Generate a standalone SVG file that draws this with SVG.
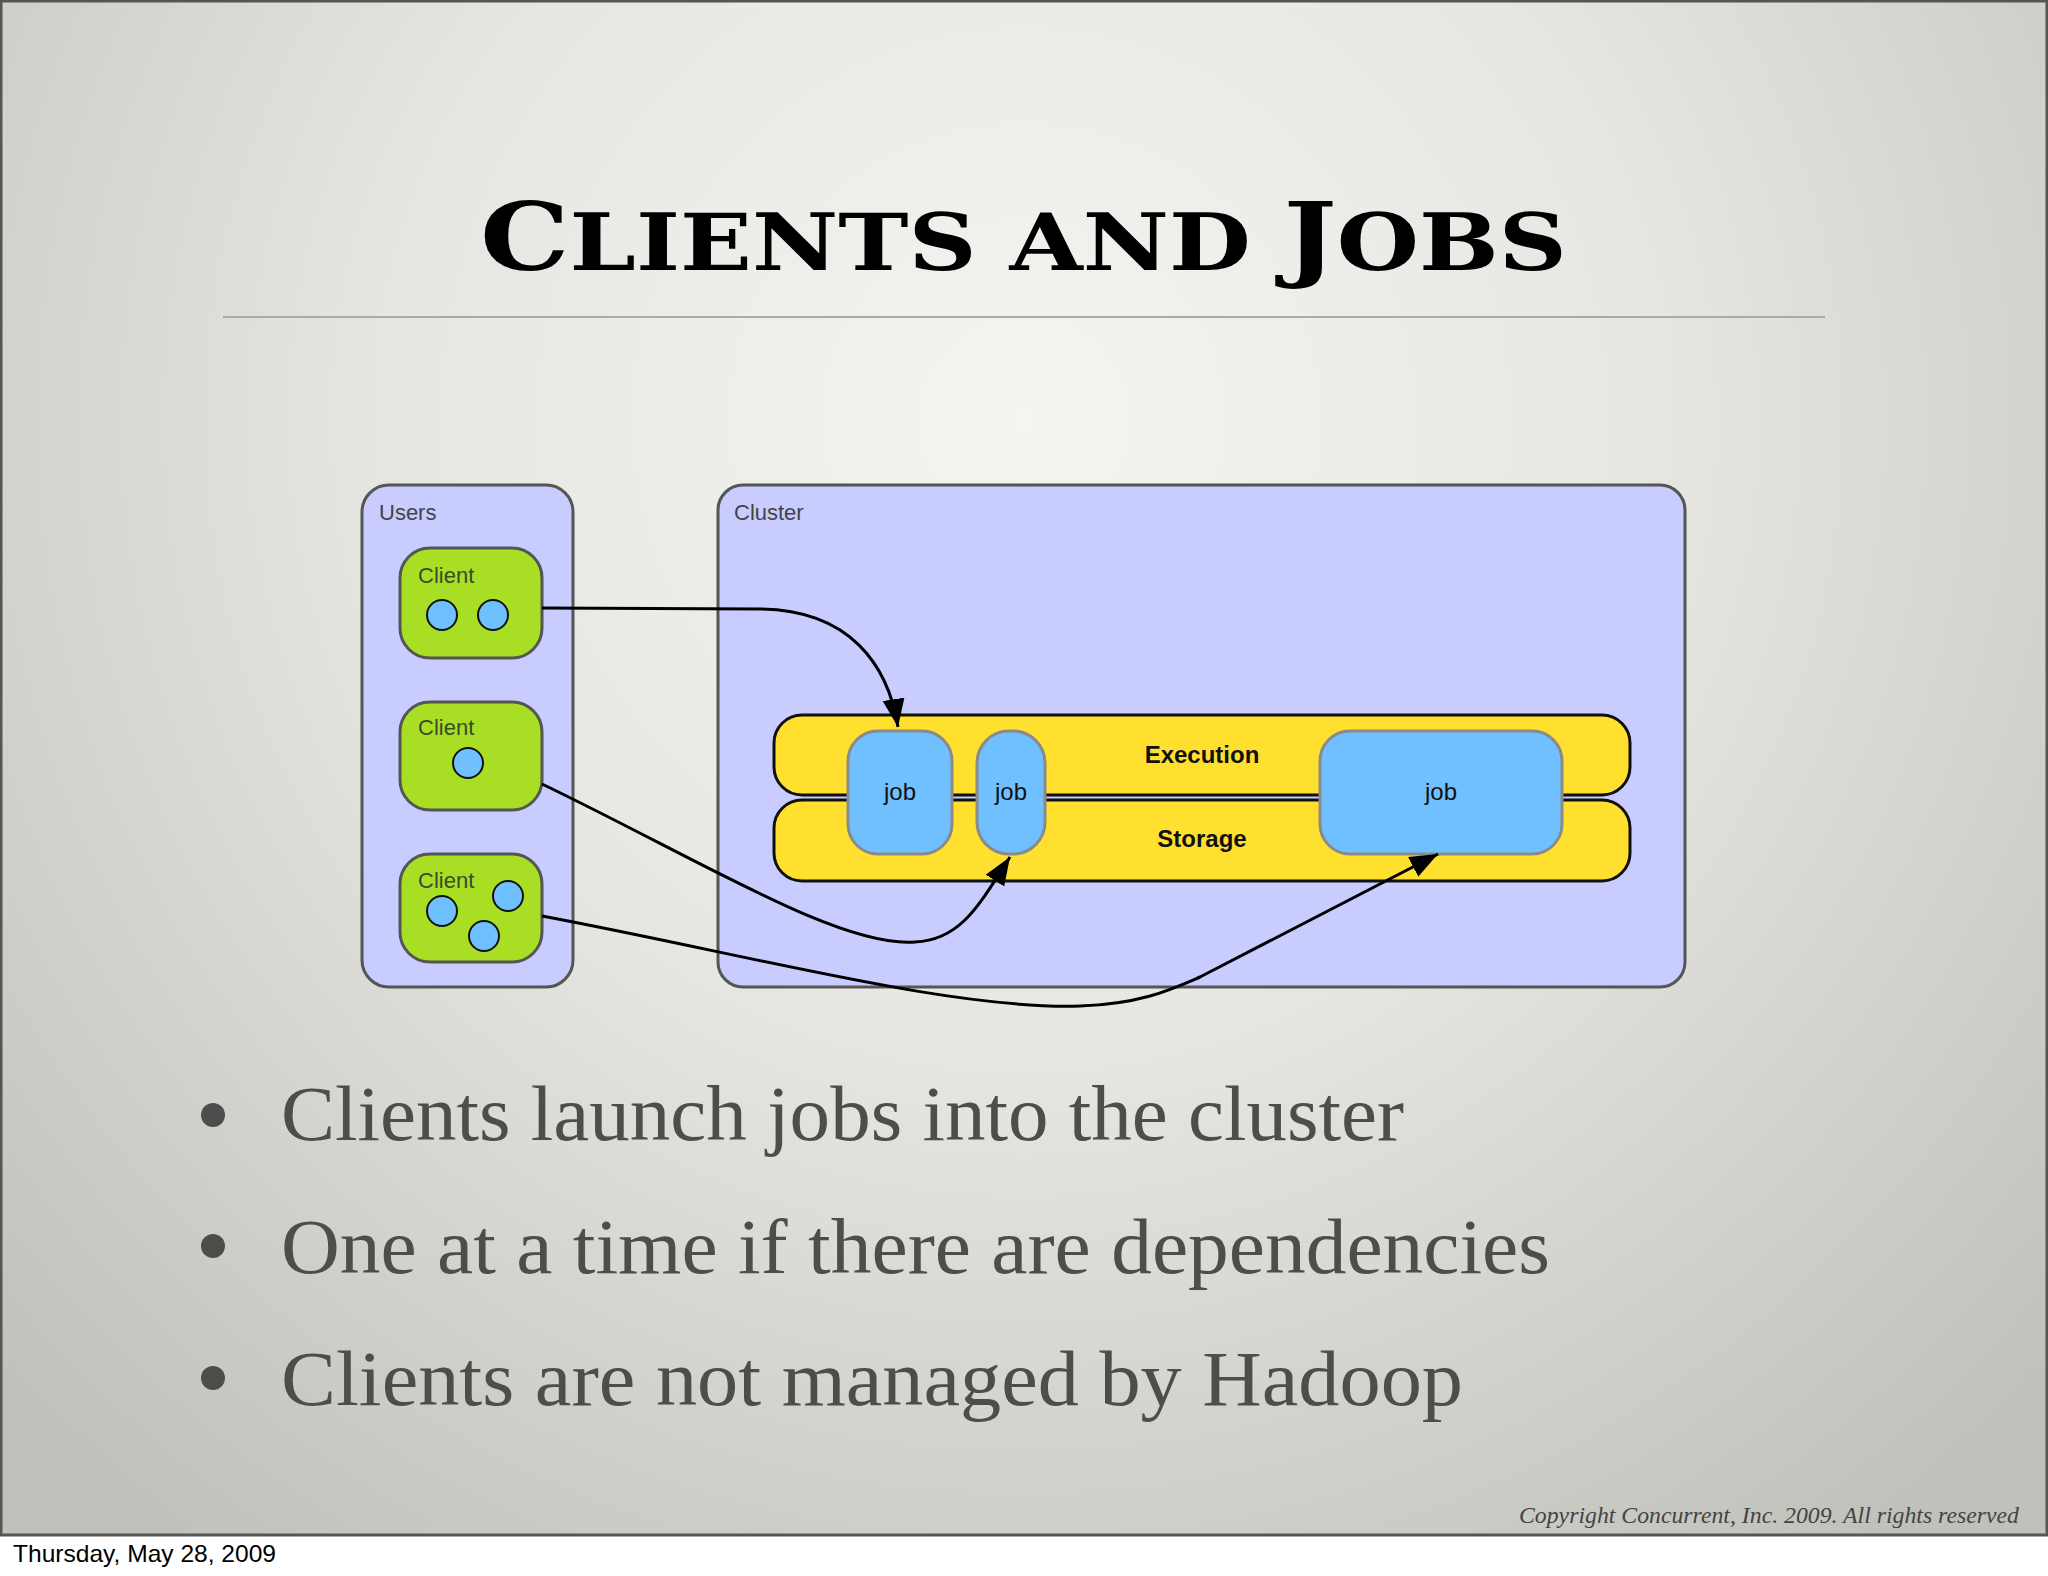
<svg xmlns="http://www.w3.org/2000/svg" width="2048" height="1576" viewBox="0 0 2048 1576">
  <defs>
    <radialGradient id="bg" gradientUnits="userSpaceOnUse" cx="1024" cy="420" r="1400">
      <stop offset="0" stop-color="#f4f4f1"/>
      <stop offset="0.45" stop-color="#e6e6e2"/>
      <stop offset="1" stop-color="#c0c1bb"/>
    </radialGradient>
    <marker id="arrow" markerUnits="userSpaceOnUse" markerWidth="30" markerHeight="24" refX="28" refY="11" orient="auto">
      <path d="M0,0 L28,11 L0,22 z" fill="#000"/>
    </marker>
    <style>
      .container { fill: #c8ccff; stroke: #555; stroke-width: 3; }
      .client { fill: #a8df25; stroke: #555; stroke-width: 3; }
      .dot { fill: #6ec0ff; stroke: #111; stroke-width: 2; }
      .band { fill: #ffe02e; stroke: #111; stroke-width: 3; }
      .job { fill: #70c0ff; stroke: #8a8a8a; stroke-width: 3; }
      .lbl { font-family: "Liberation Sans", Arial, sans-serif; font-size: 22px; fill: #444; }
      .clbl { font-family: "Liberation Sans", Arial, sans-serif; font-size: 22px; fill: #3c4a2a; }
      .jlbl { font-family: "Liberation Sans", Arial, sans-serif; font-size: 24px; fill: #111; text-anchor: middle; }
      .blbl { font-family: "Liberation Sans", Arial, sans-serif; font-size: 24px; font-weight: bold; fill: #111; text-anchor: middle; }
      .conn { fill: none; stroke: #000; stroke-width: 3; marker-end: url(#arrow); }
      .bullet { font-family: "Liberation Serif", "Times New Roman", serif; font-size: 78px; fill: #4d4d4b; }
    </style>
  </defs>

  <!-- page -->
  <rect x="0" y="0" width="2048" height="1576" fill="#ffffff"/>
  <rect x="1" y="1" width="2046" height="1534" fill="url(#bg)" stroke="#555" stroke-width="3"/>

  <!-- title -->
  <g id="title">
    <text x="480" y="270" textLength="1087" lengthAdjust="spacingAndGlyphs" font-family="'DejaVu Serif', 'Liberation Serif', serif" font-weight="bold" fill="#000"><tspan font-size="93">C</tspan><tspan font-size="78">LIENTS AND </tspan><tspan font-size="93">J</tspan><tspan font-size="78">OBS</tspan></text>
    <line x1="223" y1="317" x2="1825" y2="317" stroke="#aaaaa8" stroke-width="2"/>
  </g>

  <!-- Users container -->
  <g id="users">
    <rect class="container" x="362" y="485" width="211" height="502" rx="27" ry="27"/>
    <text class="lbl" x="379" y="520">Users</text>
  </g>

  <!-- Cluster container -->
  <g id="cluster">
    <rect class="container" x="718" y="485" width="967" height="502" rx="25" ry="25"/>
    <text class="lbl" x="734" y="520">Cluster</text>
  </g>

  <g id="client1">
    <rect class="client" x="400" y="548" width="142" height="110" rx="30" ry="30"/>
    <text class="clbl" x="418" y="583">Client</text>
    <circle class="dot" cx="442" cy="615" r="15"/>
    <circle class="dot" cx="493" cy="615" r="15"/>
  </g>
  <g id="client2">
    <rect class="client" x="400" y="702" width="142" height="108" rx="30" ry="30"/>
    <text class="clbl" x="418" y="735">Client</text>
    <circle class="dot" cx="468" cy="763" r="15"/>
  </g>
  <g id="client3">
    <rect class="client" x="400" y="854" width="142" height="108" rx="30" ry="30"/>
    <text class="clbl" x="418" y="888">Client</text>
    <circle class="dot" cx="442" cy="911" r="15"/>
    <circle class="dot" cx="508" cy="896" r="15"/>
    <circle class="dot" cx="484" cy="936" r="15"/>
  </g>

  <g id="execution">
    <rect class="band" x="774" y="715" width="856" height="80" rx="28" ry="28"/>
    <text class="blbl" x="1202" y="763">Execution</text>
  </g>
  <g id="storage">
    <rect class="band" x="774" y="800" width="856" height="81" rx="28" ry="28"/>
    <text class="blbl" x="1202" y="847">Storage</text>
  </g>

  <g id="job1">
    <rect class="job" x="848" y="731" width="104" height="123" rx="30" ry="30"/>
    <text class="jlbl" x="900" y="800">job</text>
  </g>
  <g id="job2">
    <rect class="job" x="977" y="731" width="68" height="123" rx="32" ry="32"/>
    <text class="jlbl" x="1011" y="800">job</text>
  </g>
  <g id="job3">
    <rect class="job" x="1320" y="731" width="242" height="123" rx="30" ry="30"/>
    <text class="jlbl" x="1441" y="800">job</text>
  </g>

  <!-- connectors -->
  <g id="connectors">
    <path class="conn" d="M542,608 L760,609 C850,610 888,665 898,727"/>
    <path class="conn" d="M542,784 C700,860 840,948 915,942 C960,940 978,907 1010,857"/>
    <path class="conn" d="M542,916 C750,955 950,1010 1080,1006 C1140,1004 1170,990 1200,977 L1438,854"/>
  </g>

  <!-- bullets -->
  <g id="bullets">
    <circle cx="213" cy="1115" r="12" fill="#4d4d4b"/>
    <circle cx="213" cy="1246" r="12" fill="#4d4d4b"/>
    <circle cx="213" cy="1378" r="12" fill="#4d4d4b"/>
    <text class="bullet" x="281" y="1140" textLength="1123" lengthAdjust="spacingAndGlyphs">Clients launch jobs into the cluster</text>
    <text class="bullet" x="281" y="1273" textLength="1269" lengthAdjust="spacingAndGlyphs">One at a time if there are dependencies</text>
    <text class="bullet" x="281" y="1405" textLength="1182" lengthAdjust="spacingAndGlyphs">Clients are not managed by Hadoop</text>
  </g>

  <!-- footer -->
  <text x="1519" y="1523" textLength="500" lengthAdjust="spacingAndGlyphs" font-family="'Liberation Serif', 'Times New Roman', serif" font-style="italic" font-size="23" fill="#444">Copyright Concurrent, Inc. 2009. All rights reserved</text>
  <text x="13" y="1562" textLength="263" lengthAdjust="spacingAndGlyphs" font-family="'Liberation Sans', Arial, sans-serif" font-size="24" fill="#000">Thursday, May 28, 2009</text>
</svg>
